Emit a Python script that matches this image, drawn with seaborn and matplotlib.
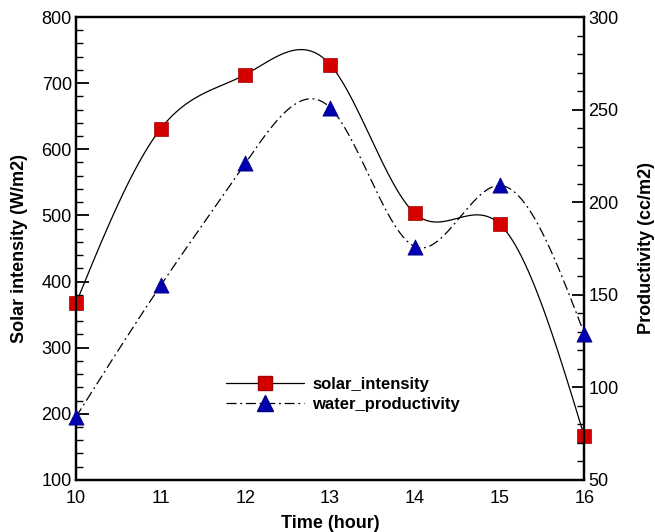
import numpy as np
import pandas as pd
import seaborn as sns
import matplotlib
matplotlib.use("Agg")
import matplotlib.pyplot as plt
from matplotlib.ticker import MultipleLocator
from matplotlib.lines import Line2D

hours = [10, 11, 12, 13, 14, 15, 16]
solar_intensity = [367, 631, 713, 728, 503, 487, 166]
water_productivity = [84, 155, 221, 251, 176, 209, 129]

sns.set_theme(style="white")
plt.rcParams['font.family'] = ['Liberation Sans', 'DejaVu Sans']
plt.rcParams['text.color'] = 'black'
plt.rcParams['axes.labelcolor'] = 'black'
plt.rcParams['xtick.color'] = 'black'
plt.rcParams['ytick.color'] = 'black'


def natural_spline(x, y, n=300):
    x = np.asarray(x, float); y = np.asarray(y, float)
    m = len(x); h = np.diff(x)
    A = np.zeros((m, m)); b = np.zeros(m)
    A[0, 0] = A[-1, -1] = 1
    for i in range(1, m - 1):
        A[i, i - 1] = h[i - 1]; A[i, i] = 2 * (h[i - 1] + h[i]); A[i, i + 1] = h[i]
        b[i] = 3 * ((y[i + 1] - y[i]) / h[i] - (y[i] - y[i - 1]) / h[i - 1])
    c = np.linalg.solve(A, b)
    xs = np.linspace(x[0], x[-1], n); ys = np.empty_like(xs)
    for k, xv in enumerate(xs):
        i = min(np.searchsorted(x, xv, side='right') - 1, m - 2)
        bi = (y[i + 1] - y[i]) / h[i] - h[i] * (2 * c[i] + c[i + 1]) / 3
        di = (c[i + 1] - c[i]) / (3 * h[i])
        t = xv - x[i]
        ys[k] = y[i] + bi * t + c[i] * t ** 2 + di * t ** 3
    return xs, ys


df = pd.DataFrame({"hour": hours, "solar": solar_intensity, "water": water_productivity})

fig = plt.figure(figsize=(6.55, 5.32), dpi=100)
ax = fig.add_axes([0.116, 0.098, 0.776, 0.870])
ax2 = ax.twinx()

xs, ys = natural_spline(hours, solar_intensity)
sns.lineplot(x=xs, y=ys, ax=ax, color="black", lw=0.9, legend=False)
sns.scatterplot(data=df, x="hour", y="solar", ax=ax, marker="s", s=95,
                color="#d40000", edgecolor="#a00000", linewidth=0.5, zorder=5, clip_on=False)

xs2, ys2 = natural_spline(hours, water_productivity)
ax2.plot(xs2, ys2, color="black", lw=0.9, ls=(0, (8, 3, 1.5, 3)))
sns.scatterplot(data=df, x="hour", y="water", ax=ax2, marker="^", s=120,
                color="#0000b0", edgecolor="#000080", linewidth=0.5, zorder=5, clip_on=False)

ax.set_xlim(10, 16)
ax.set_ylim(100, 800)
ax2.set_ylim(50, 300)

ax.xaxis.set_major_locator(MultipleLocator(1))
ax.xaxis.set_minor_locator(MultipleLocator(0.2))
ax.yaxis.set_major_locator(MultipleLocator(100))
ax.yaxis.set_minor_locator(MultipleLocator(20))
ax2.yaxis.set_major_locator(MultipleLocator(50))
ax2.yaxis.set_minor_locator(MultipleLocator(10))

for a in (ax, ax2):
    a.tick_params(which="major", direction="in", length=9, width=1.3, labelsize=13, pad=3,
                  color="black", labelcolor="black")
    a.tick_params(which="minor", direction="in", length=5, width=1.0, color="black")
    for s in a.spines.values():
        s.set_linewidth(1.6)
        s.set_color("black")
ax.tick_params(axis="x", which="both", top=False)
ax.tick_params(axis="x", which="major", pad=7)
ax.tick_params(axis="y", which="both", left=True, right=False)
ax2.tick_params(axis="y", which="both", right=True)

ax.set_xlabel("Time (hour)", fontsize=13, fontweight="bold", labelpad=6, color="black")
ax.set_ylabel("Solar intensity (W/m2)", fontsize=13, fontweight="bold", labelpad=10, color="black")
ax2.set_ylabel("Productivity (cc/m2)", fontsize=13, fontweight="bold", labelpad=14, color="black")

h1 = Line2D([], [], color="black", lw=0.9, marker="s", markersize=10,
            markerfacecolor="#d40000", markeredgecolor="#a00000")
h2 = Line2D([], [], color="black", lw=0.9, ls=(0, (8, 3, 1.5, 3)), marker="^", markersize=11,
            markerfacecolor="#0000b0", markeredgecolor="#000080")
ax.legend([h1, h2], ["solar_intensity", "water_productivity"], loc="upper left",
          bbox_to_anchor=(0.265, 0.255), frameon=False, handlelength=4.7,
          prop={"weight": "bold", "size": 12}, labelspacing=0.3, handletextpad=0.5)

fig.savefig("out.png", dpi=100)
